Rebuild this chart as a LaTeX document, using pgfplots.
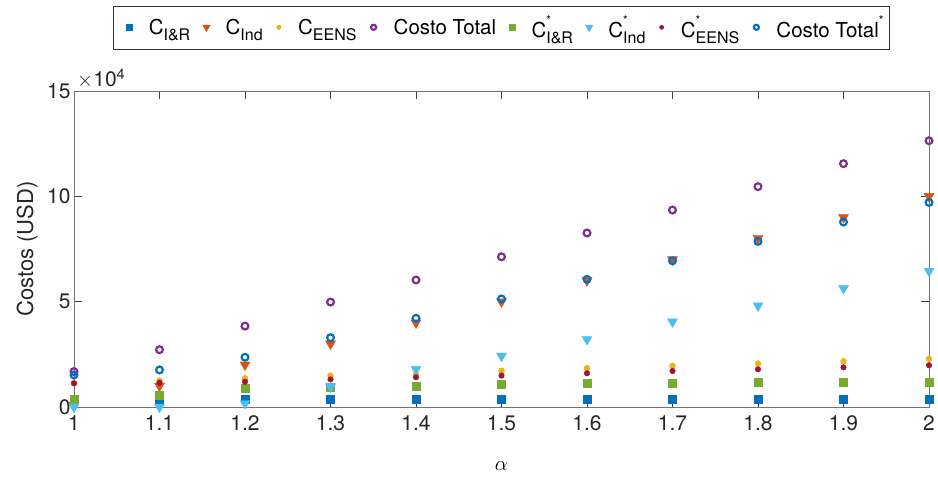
\documentclass[border=0pt]{standalone}
\usepackage{fontspec}
\setmainfont{TeX Gyre Heros}
\usepackage{pgfplots}
\usepackage{pgfplotstable}
\pgfplotsset{compat=1.18}

% MATLAB default colour order
\definecolor{mblue}{rgb}{0,0.447,0.741}
\definecolor{morange}{rgb}{0.85,0.325,0.098}
\definecolor{myellow}{rgb}{0.929,0.694,0.125}
\definecolor{mpurple}{rgb}{0.494,0.184,0.556}
\definecolor{mgreen}{rgb}{0.466,0.674,0.188}
\definecolor{mcyan}{rgb}{0.301,0.745,0.933}
\definecolor{mred}{rgb}{0.635,0.078,0.184}

% subscript / starred subscript in the legend font
\newcommand{\sub}[1]{\raisebox{-0.32em}{\fontsize{16}{18}\selectfont #1}}
\newcommand{\starsub}[1]{\rlap{\raisebox{0.62em}{\fontsize{12}{14}\selectfont *}}\sub{#1}}

% costs in USD versus alpha (starred columns: optimised case)
\pgfplotstableread{
alpha CIR  CInd   CEENS CT     CIRs  CInds CEENSs CTs
1.0   3800 1000   11500 16800  3800  0     11200  15200
1.1   3800 10000  12500 27200  5700  0     11500  17600
1.2   3800 20000  13600 38400  8900  1700  12000  23600
1.3   3800 30000  14900 49800  9300  9600  13100  32900
1.4   3800 40000  15700 60300  10000 17900 14100  42100
1.5   3800 50000  17200 71300  10900 24200 14900  51300
1.6   3800 60000  18400 82600  11500 32100 16000  60600
1.7   3800 70000  19500 93500  11200 40500 17100  69400
1.8   3800 80000  20600 104600 11900 48100 17900  78600
1.9   3800 90000  21700 115500 11900 56300 18800  87800
2.0   3800 100000 22900 126400 11900 64500 19800  97100
}\costos

\begin{document}
\begin{tikzpicture}
\begin{axis}[
  name=ax,
  scale only axis,
  width=855pt, height=316pt,
  xmin=1, xmax=2, ymin=0, ymax=150000,
  xtick={1,1.1,1.2,1.3,1.4,1.5,1.6,1.7,1.8,1.9,2},
  xticklabels={1,1.1,1.2,1.3,1.4,1.5,1.6,1.7,1.8,1.9,2},
  ytick={0,50000,100000,150000},
  yticklabels={0,5,10,15},
  scaled y ticks=false,
  tick align=inside, tick pos=both,
  major tick length=8pt,
  axis line style={black!55},
  tick style={black!75, line width=0.6pt},
  ticklabel style={font=\fontsize{21}{24}\selectfont, text=black!85},
  xticklabel style={yshift=-5pt},
  ylabel={Costos (USD)},
  xlabel={$\alpha$},
  ylabel style={at={(rel axis cs:-0.0421,0.5)}, anchor=south,
    inner sep=0pt, font=\fontsize{22}{26}\selectfont, text=black!85},
  xlabel style={at={(rel axis cs:0.5,0)}, anchor=base,
    yshift=-63pt, inner sep=0pt, font=\fontsize{22}{26}\selectfont},
  legend columns=8,
  legend cell align=left,
  legend image code/.code={%
    \path (-12pt,0pt) (11pt,0pt);
    \draw[#1, /tikz/every mark/.append style={scale=0.75}]
      plot coordinates {(0pt,0pt)};},
  legend style={at={(0.5,1.133)}, anchor=south, draw=black!80,
    font=\fontsize{20.5}{24}\selectfont, inner xsep=4pt, inner ysep=8pt,
    /tikz/every odd column/.append style={column sep=6pt},
    /tikz/every even column/.append style={column sep=2pt}},
]
\addplot[only marks, mark=square*, mark size=4pt, color=mblue]
  table[x=alpha, y=CIR] {\costos};
\addlegendentry{C\sub{I\&R}}
\addplot[only marks, mark=triangle*, mark size=5.8pt, color=morange,
  mark options={rotate=180}]
  table[x=alpha, y=CInd] {\costos};
\addlegendentry{C\sub{Ind}}
\addplot[only marks, mark=*, mark size=3pt, color=myellow]
  table[x=alpha, y=CEENS] {\costos};
\addlegendentry{C\sub{EENS}}
\addplot[only marks, mark=o, mark size=3.4pt, color=mpurple, line width=2.2pt]
  table[x=alpha, y=CT] {\costos};
\addlegendentry{Costo Total}
\addplot[only marks, mark=square*, mark size=4pt, color=mgreen]
  table[x=alpha, y=CIRs] {\costos};
\addlegendentry{C\starsub{I\&R}}
\addplot[only marks, mark=triangle*, mark size=5.8pt, color=mcyan,
  mark options={rotate=180}]
  table[x=alpha, y=CInds] {\costos};
\addlegendentry{C\starsub{Ind}}
\addplot[only marks, mark=*, mark size=2.8pt, color=mred]
  table[x=alpha, y=CEENSs] {\costos};
\addlegendentry{C\starsub{EENS}}
\addplot[only marks, mark=o, mark size=3.4pt, color=mblue, line width=2.2pt]
  table[x=alpha, y=CTs] {\costos};
\addlegendentry{Costo Total\raisebox{0.62em}{\fontsize{12}{14}\selectfont *}}
\end{axis}
% exponent of the y tick values, above the top left corner
\node[anchor=base west, inner sep=0pt, xshift=3pt, yshift=4pt,
  font=\fontsize{21}{24}\selectfont, text=black!85]
  at (ax.north west) {\(\times\)10\textsuperscript{4}};
\pgfresetboundingbox
\path[use as bounding box] ([xshift=-74pt,yshift=-69pt]ax.south west)
  rectangle ([xshift=9pt,yshift=91pt]ax.north east);
\end{tikzpicture}
\end{document}
